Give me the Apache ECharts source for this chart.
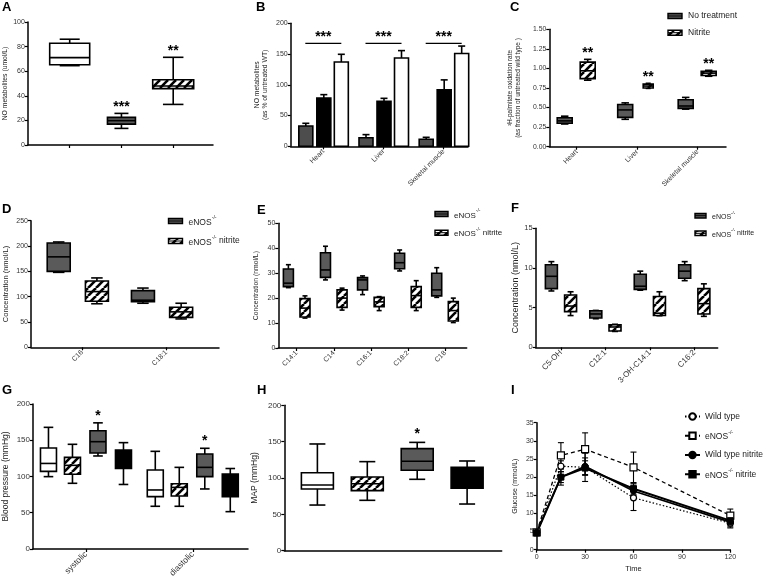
<!DOCTYPE html>
<html><head><meta charset="utf-8">
<script src="https://cdn.jsdelivr.net/npm/echarts@6/dist/echarts.min.js"></script>
<style>html,body{margin:0;padding:0;background:#fff}#c{width:766px;height:580px}</style>
</head><body><div id="c"></div>
<script>
// ================= DATA =================
// box values: [min, q1, median, q3, max]
// A
const aCats = ['Wild type', 'eNOS-/-', 'eNOS-/- nitrite'];
const aBoxes = [[64.5, 65.3, 71, 82.7, 86], [13.5, 17, 19.8, 22.5, 25.7], [33, 45.8, 48, 53, 71.3]];
const aSig = ['', '***', '**'];
const aYName = 'NO metabolites (umol/L)';
const aYTicks = [0, 100, 20];
// B
const bCats = ['Heart', 'Liver', 'Skeletal muscle'];
const bGray = [33, 14, 11.4];
const bGrayErr = [4.4, 5, 3.2];
const bBlack = [78.6, 73, 92];
const bBlackErr = [5.4, 5, 16];
const bWhite = [137, 143.6, 151];
const bWhiteErr = [12.6, 12, 12];
const bSigLevel = [167.5, 167.5, 167.5];
const bSig = ['***', '***', '***'];
const bYName = 'NO metabolites\n(as % of untreated WT)';
const bYTicks = [0, 200, 50];
// C
const cCats = ['Heart', 'Liver', 'Skeletal muscle'];
const cSeries = ['No treatment', 'Nitrite'];
const cNoTreat = [[0.29, 0.30, 0.33, 0.37, 0.39], [0.35, 0.375, 0.47, 0.54, 0.56], [0.48, 0.49, 0.52, 0.60, 0.63]];
const cNitrite = [[0.85, 0.87, 0.97, 1.08, 1.116], [0.745, 0.75, 0.775, 0.80, 0.81], [0.90, 0.91, 0.94, 0.963, 0.976]];
const cSig = ['**', '**', '**'];
const cYName = '³H-palmitate oxidation rate\n(as fraction of untreated wild type )';
const cYTicks = [0, 1.5, 0.25];
// D
const dCats = ['C16', 'C18:1'];
const dSeries = ['eNOS-/-', 'eNOS-/- nitrite'];
const dEnos = [[148, 150, 178.6, 206, 208], [87, 90, 93, 112, 117]];
const dNitrite = [[86, 91, 110, 131, 137], [56, 59, 70, 79, 87]];
const dYName = 'Concentration (nmol/L)';
const dYTicks = [0, 250, 50];
// E
const eCats = ['C14:1', 'C14', 'C16:1', 'C18:2', 'C18'];
const eSeries = ['eNOS-/-', 'eNOS-/- nitrite'];
const eEnos = [[24.2, 24.6, 26, 31.7, 33.4], [27.3, 28.3, 31.3, 38.2, 40.8], [21.4, 23.3, 27.3, 28.2, 28.9], [30.9, 31.8, 34.2, 38, 39.3], [20.3, 20.9, 23.3, 30, 32.2]];
const eNitrite = [[12, 12.4, 16, 19.8, 20.9], [15.2, 16.3, 20, 23.3, 24], [15, 16.6, 18.5, 20.3, 20.6], [15, 16.3, 21, 24.6, 27], [10.2, 10.8, 15, 18.6, 20]];
const eYName = 'Concentration (nmol/L)';
const eYTicks = [0, 50, 10];
// F
const fCats = ['C5-OH', 'C12:1', '3-OH-C14:1', 'C16:2'];
const fSeries = ['eNOS-/-', 'eNOS-/- nitrite'];
const fEnos = [[7.1, 7.4, 8.95, 10.4, 10.8], [3.6, 3.7, 4.2, 4.6, 4.65], [7.2, 7.3, 7.7, 9.2, 9.6], [8.4, 8.7, 9.6, 10.4, 10.8]];
const fNitrite = [[4.0, 4.5, 5.2, 6.6, 7.0], [2.0, 2.06, 2.56, 2.85, 2.9], [3.98, 4.0, 4.3, 6.4, 7.0], [3.9, 4.2, 5.5, 7.4, 8.0]];
const fYName = 'Concentration (nmol/L)';
const fYTicks = [0, 15, 5];
// G
const gCats = ['systolic', 'diastolic'];
const gWT = [[99.8, 107, 118, 139.3, 167.8], [58.9, 72.2, 81.4, 109, 134.7]];
const gWTNitrite = [[90.6, 103, 115.4, 126.4, 144.4], [58.9, 73, 85, 90, 112.6]];
const gEnos = [[128.3, 132.4, 148, 163, 174], [82.8, 99.8, 112.6, 131, 138.9]];
const gEnosNitrite = [[89, 111, 125, 136.6, 146.7], [51.5, 72.2, 90, 103.4, 111]];
const gSig = ['*', '*'];
const gYName = 'Blood pressure (mmHg)';
const gYTicks = [0, 200, 50];
// H
const hCats = ['Wild type', 'Wild type nitrite', 'eNOS-/-', 'eNOS-/- nitrite'];
const hBoxes = [[62.8, 84.9, 90.4, 107.3, 146.8], [69.3, 82.6, 92, 101.4, 122.5], [98.2, 110.6, 123, 140.4, 149], [64.2, 85.8, 100, 114.7, 123.4]];
const hSig = ['', '', '*', ''];
const hYName = 'MAP (mmHg)';
const hYTicks = [0, 200, 50];
// I
const iTime = [0, 15, 30, 60, 120];
const iSeries = ['Wild type', 'eNOS-/-', 'Wild type nitrite', 'eNOS-/- nitrite'];
const iWT = [4.8, 23, 22.7, 14.3, 7.3];
const iWTErr = [0.5, 1.5, 3.9, 3.5, 1.0];
const iEnos = [4.8, 26, 27.7, 22.7, 9.4];
const iEnosErr = [0.5, 3.5, 4.5, 4.2, 1.8];
const iWTNit = [4.8, 20, 23, 16.2, 7.6];
const iWTNitErr = [0.5, 1.5, 2.3, 1.2, 1.6];
const iEnosNit = [4.6, 20, 22.5, 16.8, 8.0];
const iEnosNitErr = [0.5, 2.2, 2.0, 1.5, 0.8];
const iYName = 'Glucose (mmol/L)';
const iXName = 'Time';
const iYTicks = [0, 35, 5];
const iXTicks = [0, 120, 30];
const panelLetters = ['A', 'B', 'C', 'D', 'E', 'F', 'G', 'H', 'I'];

// ================= STYLE / LAYOUT =================
const FONT = '"Liberation Sans", Arial, Helvetica, sans-serif';
const GRAY = '#5a5a5a';
function makeHatch() {
  const c = document.createElement('canvas'); c.width = 8; c.height = 8;
  const g = c.getContext('2d');
  g.fillStyle = '#fff'; g.fillRect(0, 0, 8, 8);
  g.strokeStyle = '#000'; g.lineWidth = 2.6;
  for (const o of [-8, 0, 8]) { g.beginPath(); g.moveTo(o, 8); g.lineTo(o + 8, 0); g.stroke(); }
  return c;
}
const HATCH = { image: makeHatch(), repeat: 'repeat' };

const grids = [
  { left: 27, top: 22, width: 186, height: 123 },
  { left: 290.7, top: 23.3, width: 177.3, height: 123 },
  { left: 549.3, top: 29.3, width: 176.7, height: 117.4 },
  { left: 29.3, top: 220.7, width: 189.7, height: 126.6 },
  { left: 278.3, top: 223.3, width: 188.4, height: 124.7 },
  { left: 535.7, top: 228.3, width: 182, height: 119 },
  { left: 31, top: 404, width: 217, height: 145 },
  { left: 284.3, top: 405.3, width: 217.4, height: 145.4 },
  { left: 536.7, top: 422.7, width: 193.6, height: 127 }
];
// x ranges in category units (category i sits at i)
const xRanges = [[-0.808, 2.769], [-0.542, 2.404], [-0.453, 2.468], [-0.608, 1.624], [-0.496, 4.585], [-0.569, 3.527], [-0.496, 1.517], [-0.663, 3.693]];

function supRich(name) { return name.replace('eNOS-/-', '{n|eNOS}{s|-/-}'); }
function richStyles(fs) {
  return { n: { fontSize: fs, fontFamily: FONT, fill: '#222', color: '#222', verticalAlign: 'bottom', lineHeight: fs + 3 },
           s: { fontSize: fs * 0.62, fontFamily: FONT, fill: '#222', color: '#222', verticalAlign: 'top', lineHeight: fs * 0.62 } };
}

function yAxis(gi, ticks, name, nameGap, fs, nfs, fmt) {
  return {
    type: 'value', gridIndex: gi, min: ticks[0], max: ticks[1], interval: ticks[2],
    name, nameLocation: 'middle', nameGap, nameRotate: 90,
    nameTextStyle: { fontSize: nfs, color: '#222', fontFamily: FONT, lineHeight: nfs + 1.5 },
    axisLine: { show: true, onZero: false, lineStyle: { color: '#000', width: 1.5 } },
    axisTick: { show: true, length: 3, lineStyle: { color: '#000', width: 1.2 } },
    axisLabel: { fontSize: fs, color: '#333', margin: 3, fontFamily: FONT, formatter: fmt },
    splitLine: { show: false }
  };
}
function xAxisCat(gi, cats, o) {
  const vals = cats.map((_, i) => i);
  return {
    type: 'value', gridIndex: gi, min: xRanges[gi][0], max: xRanges[gi][1],
    axisLine: { show: true, onZero: false, lineStyle: { color: '#000', width: 1.5 } },
    axisTick: { show: o.ticks !== false, customValues: vals, length: 3, lineStyle: { color: '#000', width: 1.2 } },
    axisLabel: { show: o.labels !== false, customValues: vals, formatter: v => cats[Math.round(v)] || '',
      rotate: 45, fontSize: o.fs || 7, color: '#333', margin: 4, fontFamily: FONT },
    splitLine: { show: false }
  };
}

function boxSeries(gi, boxes, o) {
  const data = boxes.map((b, i) => [i].concat(b));
  return {
    type: 'custom', xAxisIndex: gi, yAxisIndex: gi, data, silent: true, z: 3,
    encode: { x: 0, y: [1, 2, 3, 4, 5] },
    renderItem(params, api) {
      const idx = params.dataIndex;
      const i = api.value(0), mn = api.value(1), q1 = api.value(2), md = api.value(3), q3 = api.value(4), mx = api.value(5);
      const w = Array.isArray(o.width) ? o.width[idx] : o.width;
      const cx = api.coord([i, 0])[0] + (o.offset || 0);
      const Y = v => api.coord([i, v])[1];
      const lw = o.lw || 1.6, cw = w * (o.cap || 0.5);
      const ls = { stroke: '#000', lineWidth: lw };
      const ch = [
        { type: 'line', shape: { x1: cx, y1: Y(mx), x2: cx, y2: Y(q3) }, style: ls },
        { type: 'line', shape: { x1: cx, y1: Y(q1), x2: cx, y2: Y(mn) }, style: ls },
        { type: 'line', shape: { x1: cx - cw / 2, y1: Y(mx), x2: cx + cw / 2, y2: Y(mx) }, style: ls },
        { type: 'line', shape: { x1: cx - cw / 2, y1: Y(mn), x2: cx + cw / 2, y2: Y(mn) }, style: ls },
        { type: 'rect', shape: { x: cx - w / 2, y: Y(q3), width: w, height: Y(q1) - Y(q3) }, style: { fill: o.fill, stroke: '#000', lineWidth: lw } },
        { type: 'line', shape: { x1: cx - w / 2, y1: Y(md), x2: cx + w / 2, y2: Y(md) }, style: ls }
      ];
      const s = o.sig && o.sig[idx];
      if (s) ch.push({ type: 'text', x: cx, y: Y(mx) - (o.sigGap || 6),
        style: { text: s, fill: '#000', font: 'bold ' + (o.sigFs || 14) + 'px ' + FONT, align: 'center', verticalAlign: 'middle' } });
      return { type: 'group', children: ch };
    }
  };
}

function barSeries(gi, vals, errs, o) {
  const data = vals.map((v, i) => [i, v, v + errs[i]]);
  return {
    type: 'custom', xAxisIndex: gi, yAxisIndex: gi, data, silent: true, z: 3,
    encode: { x: 0, y: [1, 2] },
    renderItem(params, api) {
      const i = api.value(0), v = api.value(1), e = api.value(2);
      const p0 = api.coord([i, 0]);
      const cx = p0[0] + o.offset, w = o.width, cw = w * 0.5;
      const yv = api.coord([i, v])[1], ye = api.coord([i, e])[1];
      const ls = { stroke: '#000', lineWidth: 1.6 };
      return { type: 'group', children: [
        { type: 'line', shape: { x1: cx, y1: yv, x2: cx, y2: ye }, style: ls },
        { type: 'line', shape: { x1: cx - cw / 2, y1: ye, x2: cx + cw / 2, y2: ye }, style: ls },
        { type: 'rect', shape: { x: cx - w / 2, y: yv, width: w, height: p0[1] - yv }, style: { fill: o.fill, stroke: '#000', lineWidth: 1.6 } }
      ] };
    }
  };
}

function sigLineSeries(gi, levels, sigs, half) {
  const data = levels.map((l, i) => [i, l]);
  return {
    type: 'custom', xAxisIndex: gi, yAxisIndex: gi, data, silent: true, z: 3,
    encode: { x: 0, y: 1 },
    renderItem(params, api) {
      const p = api.coord([api.value(0), api.value(1)]);
      return { type: 'group', children: [
        { type: 'line', shape: { x1: p[0] - half, y1: p[1], x2: p[0] + half, y2: p[1] }, style: { stroke: '#000', lineWidth: 1.2 } },
        { type: 'text', x: p[0], y: p[1] - 6, style: { text: sigs[params.dataIndex], fill: '#000', font: 'bold 14px ' + FONT, align: 'center', verticalAlign: 'middle' } }
      ] };
    }
  };
}

function errSeries(vals, errs) {
  const data = iTime.map((t, k) => [t, vals[k] - errs[k], vals[k] + errs[k]]);
  return {
    type: 'custom', xAxisIndex: 8, yAxisIndex: 8, data, silent: true, z: 2,
    encode: { x: 0, y: [1, 2] },
    renderItem(params, api) {
      const lo = api.coord([api.value(0), api.value(1)]), hi = api.coord([api.value(0), api.value(2)]);
      const ls = { stroke: '#000', lineWidth: 1.1 };
      return { type: 'group', children: [
        { type: 'line', shape: { x1: lo[0], y1: lo[1], x2: hi[0], y2: hi[1] }, style: ls },
        { type: 'line', shape: { x1: lo[0] - 3, y1: lo[1], x2: lo[0] + 3, y2: lo[1] }, style: ls },
        { type: 'line', shape: { x1: hi[0] - 3, y1: hi[1], x2: hi[0] + 3, y2: hi[1] }, style: ls }
      ] };
    }
  };
}

function boxLegend(x, y, w, h, fill, label, fs) {
  return [
    { type: 'rect', shape: { x, y: y - h / 2, width: w, height: h }, style: { fill, stroke: '#000', lineWidth: 1.4 }, z: 10 },
    { type: 'line', shape: { x1: x, y1: y, x2: x + w, y2: y }, style: { stroke: '#000', lineWidth: 1 }, z: 10 },
    { type: 'text', x: x + w + 6, y, z: 10, style: { text: supRich(label), rich: richStyles(fs), fontSize: fs, fontFamily: FONT, fill: '#222', verticalAlign: 'middle' } }
  ];
}

const letterPos = [[2, 1], [256, 1], [510, 1], [2, 203], [257, 204], [511, 202], [2, 384], [257, 384], [511, 384]];
const graphics = [];
panelLetters.forEach((L, k) => graphics.push({ type: 'text', x: letterPos[k][0], y: letterPos[k][1], z: 10,
  style: { text: L, font: 'bold 13px ' + FONT, fill: '#000', verticalAlign: 'top' } }));
graphics.push(...boxLegend(668, 16, 14, 5, GRAY, cSeries[0], 8.5));
graphics.push(...boxLegend(668, 32.7, 14, 5, HATCH, cSeries[1], 8.5));
graphics.push(...boxLegend(168.5, 221, 14, 5, GRAY, dSeries[0], 8.5));
graphics.push(...boxLegend(168.5, 241, 14, 5, HATCH, dSeries[1], 8.5));
graphics.push(...boxLegend(435, 214, 13, 5, GRAY, eSeries[0], 8));
graphics.push(...boxLegend(435, 232.7, 13, 5, HATCH, eSeries[1], 8));
graphics.push(...boxLegend(695, 215.7, 11, 4.5, GRAY, fSeries[0], 7));
graphics.push(...boxLegend(695, 233.3, 11, 4.5, HATCH, fSeries[1], 7));

const fmt2 = v => v.toFixed(2);

const option = {
  animation: false,
  backgroundColor: '#fff',
  textStyle: { fontFamily: FONT },
  grid: grids,
  graphic: graphics,
  legend: {
    data: iSeries, orient: 'vertical', left: 679, top: 407, itemWidth: 15, itemHeight: 8, itemGap: 9,
    selectedMode: false, formatter: n => supRich(n),
    textStyle: { fontSize: 8.5, color: '#222', fontFamily: FONT, rich: richStyles(8.5) }
  },
  xAxis: [
    xAxisCat(0, aCats, { labels: false }),
    xAxisCat(1, bCats, { fs: 7 }),
    xAxisCat(2, cCats, { fs: 7 }),
    xAxisCat(3, dCats, { fs: 7 }),
    xAxisCat(4, eCats, { fs: 7 }),
    xAxisCat(5, fCats, { fs: 8 }),
    xAxisCat(6, gCats, { fs: 8.5 }),
    xAxisCat(7, hCats, { labels: false, ticks: false }),
    { type: 'value', gridIndex: 8, min: iXTicks[0], max: iXTicks[1], interval: iXTicks[2],
      name: iXName, nameLocation: 'middle', nameGap: 15, nameTextStyle: { fontSize: 7.5, color: '#222', fontFamily: FONT },
      axisLine: { show: true, onZero: false, lineStyle: { color: '#000', width: 1.5 } },
      axisTick: { show: true, length: 3, lineStyle: { color: '#000', width: 1.2 } },
      axisLabel: { fontSize: 7, color: '#333', margin: 4, fontFamily: FONT }, splitLine: { show: false } }
  ],
  yAxis: [
    yAxis(0, aYTicks, aYName, 18, 7, 6.8),
    yAxis(1, bYTicks, bYName, 21, 7, 6.8),
    yAxis(2, cYTicks, cYName, 27, 6.8, 6.5, fmt2),
    yAxis(3, dYTicks, dYName, 21, 7, 7.5),
    yAxis(4, eYTicks, eYName, 18, 7, 6.8),
    yAxis(5, fYTicks, fYName, 12, 7.5, 9),
    yAxis(6, gYTicks, gYName, 22, 8, 8.5),
    yAxis(7, hYTicks, hYName, 25, 8, 8.5),
    yAxis(8, iYTicks, iYName, 17, 7, 7)
  ],
  series: []
};

const seriesList = [];
// A: three boxes with individual fills
const aFills = ['#fff', GRAY, HATCH];
const aWidths = [40, 28, 41];
aBoxes.forEach((b, i) => {
  const s = boxSeries(0, [b], { fill: aFills[i], width: aWidths[i], sig: [aSig[i]], sigGap: 6 });
  s.data = [[i].concat(b)];
  seriesList.push(s);
});
// B
seriesList.push(barSeries(1, bGray, bGrayErr, { offset: -17.5, width: 14, fill: '#4d4d4d' }));
seriesList.push(barSeries(1, bBlack, bBlackErr, { offset: 0.5, width: 14, fill: '#000' }));
seriesList.push(barSeries(1, bWhite, bWhiteErr, { offset: 18, width: 14, fill: '#fff' }));
seriesList.push(sigLineSeries(1, bSigLevel, bSig, 18));
// C
seriesList.push(boxSeries(2, cNoTreat, { fill: GRAY, width: 15, offset: -12 }));
seriesList.push(boxSeries(2, cNitrite, { fill: HATCH, width: [15, 10, 15], offset: 11, sig: cSig, sigGap: 6 }));
// D
seriesList.push(boxSeries(3, dEnos, { fill: GRAY, width: 23, offset: -23.5 }));
seriesList.push(boxSeries(3, dNitrite, { fill: HATCH, width: 23, offset: 14.7 }));
// E
seriesList.push(boxSeries(4, eEnos, { fill: GRAY, width: 10, offset: -8.3 }));
seriesList.push(boxSeries(4, eNitrite, { fill: HATCH, width: 10, offset: 8.3 }));
// F
seriesList.push(boxSeries(5, fEnos, { fill: GRAY, width: 12, offset: -9.6 }));
seriesList.push(boxSeries(5, fNitrite, { fill: HATCH, width: 12, offset: 9.6 }));
// G
seriesList.push(boxSeries(6, gWT, { fill: '#fff', width: 16, offset: -37.5, cap: 0.6 }));
seriesList.push(boxSeries(6, gWTNitrite, { fill: HATCH, width: 16, offset: -13.5, cap: 0.6 }));
seriesList.push(boxSeries(6, gEnos, { fill: GRAY, width: 16, offset: 12, cap: 0.6, sig: gSig, sigGap: 7 }));
seriesList.push(boxSeries(6, gEnosNitrite, { fill: '#000', width: 16, offset: 37.5, cap: 0.6 }));
// H
const hFills = ['#fff', HATCH, GRAY, '#000'];
hBoxes.forEach((b, i) => {
  const s = boxSeries(7, [b], { fill: hFills[i], width: 32, cap: 0.5, sig: [hSig[i]], sigGap: 8 });
  s.data = [[i].concat(b)];
  seriesList.push(s);
});
// I
const iStyles = [
  { symbol: 'circle', symbolSize: 6, itemStyle: { color: '#fff', borderColor: '#000', borderWidth: 1.2 }, lineStyle: { color: '#000', width: 1.2, type: [1.5, 2] } },
  { symbol: 'rect', symbolSize: 7, itemStyle: { color: '#fff', borderColor: '#000', borderWidth: 1.2 }, lineStyle: { color: '#000', width: 1.3, type: [4, 3] } },
  { symbol: 'circle', symbolSize: 6, itemStyle: { color: '#000', borderColor: '#000', borderWidth: 1 }, lineStyle: { color: '#000', width: 1.6, type: 'solid' } },
  { symbol: 'rect', symbolSize: 6, itemStyle: { color: '#000', borderColor: '#000', borderWidth: 1 }, lineStyle: { color: '#000', width: 2, type: 'solid' } }
];
const iVals = [iWT, iEnos, iWTNit, iEnosNit];
const iErrs = [iWTErr, iEnosErr, iWTNitErr, iEnosNitErr];
iVals.forEach((v, k) => seriesList.push(errSeries(v, iErrs[k])));
iVals.forEach((v, k) => seriesList.push(Object.assign({
  type: 'line', name: iSeries[k], xAxisIndex: 8, yAxisIndex: 8, z: 4,
  data: iTime.map((t, j) => [t, v[j]]), showAllSymbol: true
}, iStyles[k])));

option.series = seriesList;

const chart = echarts.init(document.getElementById('c'), null, { renderer: 'canvas', width: 766, height: 580 });
chart.setOption(option);
</script></body></html>
